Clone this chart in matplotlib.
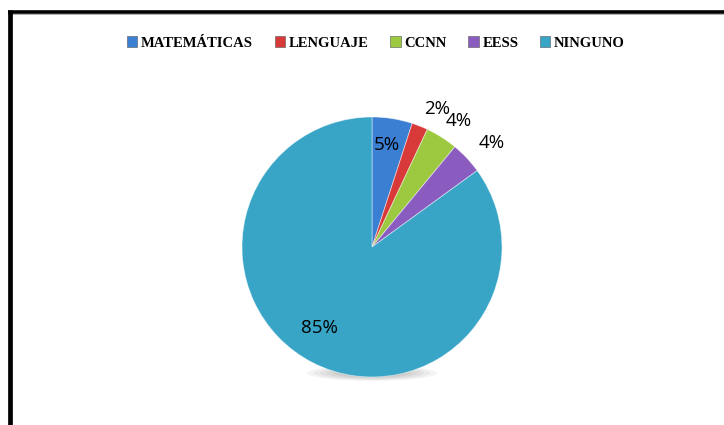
import numpy as np
import matplotlib.pyplot as plt
import matplotlib.patches as mpatches
from matplotlib.lines import Line2D

# chart data
categories = ['MATEMÁTICAS', 'LENGUAJE', 'CCNN', 'EESS', 'NINGUNO']
values = [5, 2, 4, 4, 85]
colors = ['#3b7fd3', '#d83a3a', '#9cc940', '#8a5cc0', '#38a5c7']
# label placement (radius, angle shift in deg) to mimic the excel "best fit"
label_pos = [(0.79, 0.6), (1.17, -3.6), (1.18, -2.2), (1.22, -2.3), (0.74, -6)]

W, H = 724, 425
fig = plt.figure(figsize=(W / 100, H / 100), dpi=100)
fig.patch.set_facecolor('white')

# outer frame (only top and left edges are visible)
fig.add_artist(Line2D([8 / W, 1], [1 - 11.7 / H, 1 - 11.7 / H], color='black',
                      lw=2.6, solid_capstyle='butt'))
fig.add_artist(Line2D([8 / W, 1], [1 - 14 / H, 1 - 14 / H], color='#b0b0b0',
                      lw=0.7))
fig.add_artist(Line2D([10 / W, 10 / W], [0, 1 - 10 / H], color='black',
                      lw=3.4, solid_capstyle='butt'))

# pie axes centred at (372, 247) px with radius 130 px
cx, cy, r = 372, 247, 130
ax = fig.add_axes([(cx - r) / W, (H - cy - r) / H, 2 * r / W, 2 * r / H])

# soft shadow under the pie
for k in range(6):
    ax.add_patch(mpatches.Ellipse((0, -0.97), 1.0 - k * 0.1, 0.12 - k * 0.012,
                                  color='black', alpha=0.04, lw=0,
                                  clip_on=False))

wedges, _ = ax.pie(values, colors=colors, startangle=90, counterclock=False,
                   radius=1, wedgeprops=dict(linewidth=0.6, edgecolor='#ffffff80'))
ax.set_xlim(-1, 1)
ax.set_ylim(-1, 1)
ax.set_aspect('equal')
ax.axis('off')

for w, v, (rad, shift) in zip(wedges, values, label_pos):
    mid = np.deg2rad((w.theta1 + w.theta2) / 2 + shift)
    ax.text(rad * np.cos(mid), rad * np.sin(mid), f'{v}%', ha='center',
            va='center', fontsize=13.5, family=['Open Sans', 'DejaVu Sans'],
            color='black', clip_on=False)

# legend on top
handles = [mpatches.Patch(facecolor=c, edgecolor='#555555', lw=0.4, label=n)
           for c, n in zip(colors, categories)]
fig.legend(handles=handles, loc='center', bbox_to_anchor=(376 / W, 1 - 43 / H),
           ncol=5, frameon=False, handlelength=0.7, handleheight=0.7,
           handletextpad=0.25, columnspacing=1.5, borderaxespad=0,
           prop=dict(family='Liberation Serif', weight='bold', size=10.5))

fig.savefig('out.png', dpi=100)
